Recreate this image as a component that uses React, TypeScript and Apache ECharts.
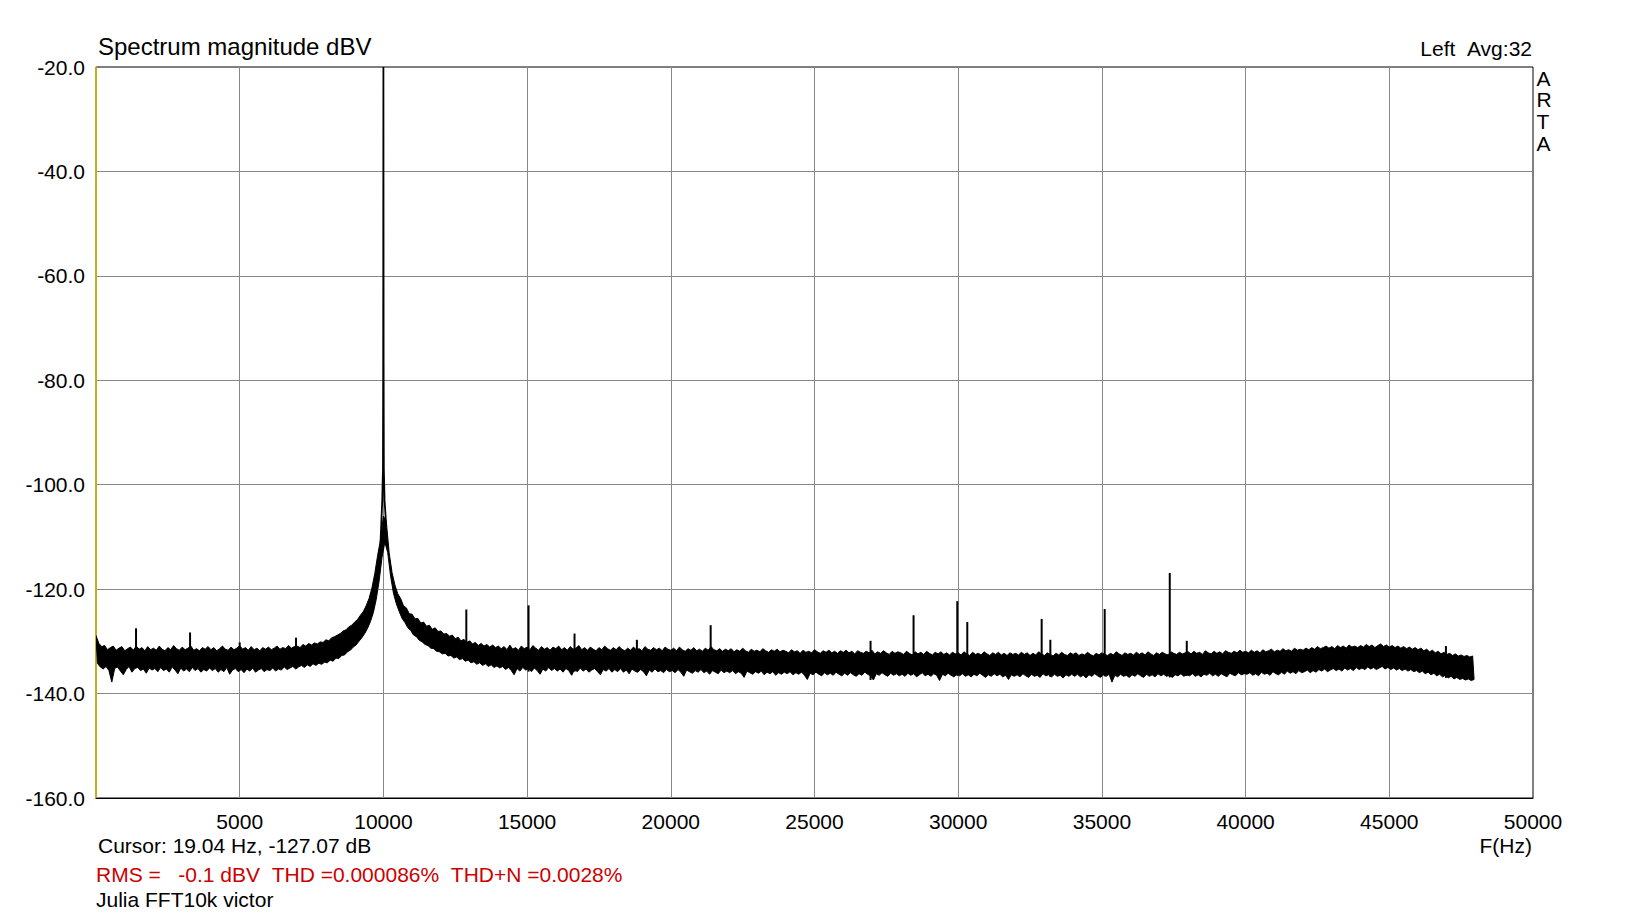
import React, { useEffect, useRef } from "react";
import * as echarts from "echarts";

// ---------- data ----------
const BIN_HZ = 100; // spacing of the noise-band samples (Hz)

// upper edge of the noise band, one value per 100 Hz bin starting at 0 Hz (dBV)
const bandTop = [
  -128.9, -130.4, -131.0, -130.8, -131.6, -131.2, -130.9, -131.7, -131.3, -131.0, -131.8, -131.4, -131.1, -131.7, -130.9, -131.5, -131.2, -131.8, -131.0, -131.6,
  -131.3, -131.7, -130.9, -131.5, -131.8, -131.2, -131.6, -130.8, -131.4, -131.7, -131.1, -131.6, -131.3, -130.9, -131.7, -131.4, -131.8, -131.2, -131.5, -131.0,
  -131.6, -131.2, -131.8, -131.4, -130.9, -131.5, -131.7, -131.1, -131.6, -131.3, -130.8, -131.5, -131.2, -131.7, -131.0, -131.6, -131.3, -131.8, -131.2, -131.5,
  -131.1, -131.6, -131.3, -130.9, -131.5, -131.2, -131.4, -130.8, -131.3, -131.0, -130.9, -131.2, -130.6, -130.9, -130.4, -130.7, -130.3, -130.5, -130.1, -130.2,
  -129.7, -129.9, -129.3, -129.1, -128.8, -128.5, -128.0, -127.8, -127.2, -126.9, -126.3, -125.8, -125.0, -124.3, -123.2, -121.8, -119.8, -117.0, -113.5, -110.5,
  -106.0, -107.0, -113.0, -116.8, -119.2, -120.9, -121.8, -123.2, -123.6, -124.7, -124.8, -125.7, -125.6, -126.5, -126.3, -127.1, -126.9, -127.7, -127.4, -128.1,
  -128.0, -128.6, -128.5, -129.0, -128.8, -129.5, -129.2, -129.9, -129.6, -130.2, -129.9, -130.5, -130.2, -130.8, -130.4, -130.9, -130.6, -131.1, -130.7, -131.2,
  -130.9, -131.4, -131.0, -131.6, -130.7, -131.5, -131.2, -131.7, -130.9, -131.4, -131.1, -131.6, -130.8, -131.3, -131.7, -131.0, -131.5, -131.2, -131.7, -131.1,
  -131.4, -130.9, -131.6, -131.2, -131.7, -131.0, -131.5, -131.3, -130.8, -131.6, -131.2, -131.7, -131.1, -131.5, -131.8, -131.2, -131.6, -130.9, -131.4, -131.7,
  -131.2, -131.6, -131.0, -131.5, -131.8, -131.3, -131.7, -131.1, -131.6, -131.4, -131.8, -131.0, -131.5, -131.7, -131.2, -131.6, -131.3, -131.8, -131.1, -131.5,
  -131.7, -131.3, -131.8, -131.1, -131.6, -131.9, -131.4, -131.7, -131.2, -131.8, -131.5, -131.9, -131.3, -131.7, -131.0, -131.6, -131.8, -131.4, -131.9, -131.5,
  -131.8, -131.4, -132.0, -131.6, -131.9, -131.3, -131.8, -132.1, -131.5, -131.9, -131.7, -132.0, -131.4, -131.8, -132.1, -131.6, -131.9, -131.5, -132.0, -131.7,
  -131.9, -132.2, -131.6, -132.0, -131.8, -132.3, -131.7, -132.1, -131.9, -132.2, -131.6, -132.0, -132.3, -131.8, -132.1, -131.7, -132.2, -131.9, -132.3, -131.8,
  -132.1, -131.7, -132.2, -131.9, -132.4, -131.8, -132.1, -132.3, -131.9, -132.2, -131.7, -132.4, -132.0, -132.3, -131.8, -132.2, -132.5, -131.9, -132.3, -132.0,
  -132.2, -132.5, -131.9, -132.3, -132.6, -132.0, -132.4, -132.1, -132.5, -131.9, -132.3, -132.6, -132.1, -132.4, -132.0, -132.5, -132.2, -132.6, -132.1, -132.4,
  -132.2, -132.6, -132.0, -132.4, -132.7, -132.1, -132.5, -132.3, -132.6, -132.0, -132.4, -132.7, -132.2, -132.5, -132.1, -132.6, -132.3, -132.7, -132.2, -132.5,
  -132.3, -132.6, -132.1, -132.5, -132.2, -132.7, -132.3, -132.6, -132.0, -132.4, -132.7, -132.2, -132.5, -132.8, -132.3, -132.6, -132.1, -132.5, -132.7, -132.2,
  -132.5, -132.2, -132.7, -132.4, -132.6, -132.1, -132.5, -132.8, -132.3, -132.6, -132.2, -132.5, -132.7, -132.3, -132.6, -132.0, -132.4, -132.7, -132.2, -132.5,
  -132.3, -132.6, -132.1, -132.5, -132.2, -132.6, -132.0, -132.4, -132.7, -132.2, -132.5, -132.1, -132.4, -132.6, -132.0, -132.3, -132.5, -132.1, -132.4, -132.2,
  -132.0, -132.4, -131.9, -132.3, -132.1, -132.5, -131.8, -132.2, -132.4, -131.9, -132.3, -132.0, -132.4, -131.8, -132.1, -132.3, -131.9, -132.2, -131.7, -132.1,
  -131.9, -132.2, -131.7, -132.1, -131.8, -132.2, -131.6, -132.0, -131.8, -131.5, -132.0, -131.7, -131.9, -131.4, -131.8, -131.6, -131.9, -131.3, -131.7, -131.5,
  -131.7, -131.3, -131.6, -131.2, -131.5, -131.0, -131.4, -131.2, -130.9, -131.3, -131.0, -131.4, -130.8, -131.2, -130.9, -131.3, -130.7, -131.1, -130.9, -131.2,
  -130.8, -131.1, -130.6, -131.0, -130.7, -131.2, -130.8, -130.5, -131.0, -130.7, -131.1, -130.8, -131.2, -130.9, -131.3, -131.0, -131.4, -131.1, -131.5, -131.2,
  -131.6, -131.3, -131.8, -131.5, -132.0, -131.7, -132.2, -131.9, -132.4, -132.1, -132.5, -132.3, -132.7, -132.4, -132.8, -132.6, -132.9, -132.7, -133.0, -132.8,
];

// lower edge of the noise band, one value per bin, sampled half a bin later (dBV)
const bandBottom = [
  -134.2, -134.9, -135.3, -134.8, -135.6, -137.8, -135.2, -134.9, -135.7, -136.4, -135.4, -134.8, -135.9, -135.2, -135.0, -135.6, -135.3, -136.1, -135.1, -135.5,
  -135.2, -135.8, -135.0, -135.6, -135.3, -135.9, -134.9, -135.5, -136.2, -135.1, -135.7, -135.3, -135.8, -135.0, -135.6, -135.2, -135.9, -135.4, -135.7, -135.1,
  -135.6, -135.2, -135.9, -135.4, -135.8, -135.0, -136.3, -135.5, -135.2, -135.8, -135.4, -136.0, -135.3, -135.7, -135.1, -135.9, -135.5, -135.2, -135.8, -135.4,
  -135.6, -135.1, -135.7, -135.3, -135.5, -134.9, -135.4, -135.1, -134.8, -135.3, -134.9, -134.6, -135.0, -134.5, -134.8, -134.3, -134.6, -134.2, -134.4, -134.0,
  -134.1, -133.6, -133.8, -133.2, -133.3, -132.7, -132.6, -132.0, -131.7, -131.1, -130.7, -130.0, -129.3, -128.5, -127.5, -126.2, -124.5, -122.0, -118.5, -114.0,
  -111.0, -113.0, -117.5, -120.8, -122.8, -124.3, -125.6, -126.4, -127.4, -127.9, -128.8, -129.1, -129.8, -130.1, -130.6, -130.8, -131.3, -131.4, -131.9, -132.0,
  -132.4, -132.3, -132.8, -132.7, -133.2, -133.0, -133.5, -133.3, -133.8, -133.6, -134.1, -133.9, -134.4, -134.1, -134.6, -134.3, -134.8, -134.5, -135.0, -134.7,
  -135.1, -134.8, -135.4, -135.0, -135.6, -136.4, -135.2, -135.7, -135.0, -135.5, -135.2, -135.8, -135.1, -135.6, -136.3, -135.3, -135.7, -135.0, -135.6, -135.2,
  -135.7, -135.3, -135.9, -135.2, -135.6, -136.5, -135.4, -135.8, -135.1, -135.7, -135.3, -135.9, -135.5, -135.2, -135.8, -136.4, -135.4, -135.7, -135.2, -135.9,
  -135.4, -135.8, -135.2, -135.9, -135.5, -136.2, -135.3, -135.7, -135.9, -135.4, -135.8, -136.6, -135.5, -135.9, -135.3, -135.8, -135.6, -136.0, -135.4, -135.8,
  -135.6, -136.0, -135.4, -135.9, -136.7, -135.5, -135.8, -136.1, -135.6, -135.9, -135.4, -136.0, -135.7, -136.3, -135.6, -135.9, -136.2, -135.5, -136.0, -135.7,
  -136.0, -135.6, -136.2, -135.8, -136.1, -136.9, -135.7, -136.0, -136.3, -135.8, -136.1, -135.7, -136.4, -135.9, -136.2, -135.8, -136.5, -136.0, -136.3, -135.9,
  -136.2, -135.8, -136.4, -136.0, -136.3, -135.9, -136.5, -137.3, -136.1, -136.4, -135.9, -136.3, -136.6, -136.0, -136.4, -136.1, -136.5, -135.9, -136.3, -136.6,
  -136.1, -136.5, -136.0, -136.4, -136.7, -136.2, -136.5, -135.9, -136.3, -136.6, -137.4, -136.2, -136.5, -136.0, -136.4, -136.7, -136.1, -136.5, -136.2, -136.6,
  -136.3, -136.7, -136.1, -136.5, -136.2, -136.8, -136.4, -136.0, -136.6, -136.3, -136.7, -136.2, -136.5, -137.5, -136.3, -136.6, -136.1, -136.5, -136.8, -136.3,
  -136.6, -136.2, -136.7, -136.4, -136.8, -136.3, -136.6, -136.1, -136.5, -136.9, -136.4, -136.7, -136.2, -136.6, -136.3, -136.8, -136.5, -137.3, -136.4, -136.7,
  -136.4, -136.8, -136.2, -136.6, -136.9, -136.3, -136.7, -136.5, -136.9, -136.2, -136.6, -136.4, -136.8, -136.3, -136.7, -136.5, -137.0, -136.4, -136.7, -136.3,
  -136.7, -136.3, -136.8, -136.5, -137.0, -136.4, -136.7, -136.2, -136.6, -136.9, -136.4, -136.7, -136.3, -137.8, -136.5, -136.8, -136.3, -136.7, -136.5, -136.9,
  -136.4, -136.7, -136.2, -136.6, -136.9, -136.3, -136.7, -136.4, -136.8, -136.2, -136.6, -136.3, -136.7, -136.5, -136.9, -136.4, -136.6, -136.2, -136.7, -136.4,
  -136.6, -136.2, -136.7, -136.4, -136.8, -136.3, -136.5, -136.1, -136.6, -136.3, -136.7, -136.2, -136.5, -136.8, -136.1, -136.4, -136.6, -136.0, -136.4, -136.2,
  -136.3, -136.0, -136.5, -136.2, -136.6, -135.9, -136.3, -136.1, -136.5, -135.8, -136.2, -136.4, -135.9, -136.3, -135.7, -136.1, -135.8, -136.2, -135.6, -136.0,
  -135.8, -135.5, -136.0, -135.6, -135.9, -135.4, -135.7, -135.3, -135.8, -135.5, -135.2, -135.6, -135.3, -135.7, -135.1, -135.5, -135.2, -135.6, -135.0, -135.4,
  -135.1, -135.4, -134.9, -135.3, -135.0, -135.4, -135.1, -134.8, -135.3, -135.0, -135.4, -135.1, -135.5, -135.2, -135.6, -135.3, -135.7, -135.4, -135.8, -135.6,
  -136.0, -135.7, -136.2, -135.9, -136.4, -136.1, -136.6, -136.3, -136.8, -136.5, -137.0, -136.7, -137.2, -136.9, -137.3, -137.1, -137.4, -137.2, -137.5, -137.3,
];

// discrete spurs above the noise floor
const spikeFreqs = [1393, 3273, 5000, 6960, 12885, 15050, 16650, 18820, 21387, 26950,
  28447, 29968, 30316, 32904, 33206, 35097, 37361, 37953, 46970];
const spikeLevels = [-127.5, -128.3, -130.2, -129.3, -123.9, -123.1, -128.5, -129.7, -126.9, -129.9,
  -125.0, -122.3, -126.3, -125.7, -129.7, -123.8, -116.9, -129.9, -130.9];

// the 10 kHz fundamental
const peakFreqs = [9900, 9960, 9985, 9993, 10000, 10007, 10015, 10040, 10100];
const peakLevels = [-111, -103, -97, -77, -20, -77, -97, -103, -108];

const X_MIN = 0, X_MAX = 50000, X_STEP = 5000;
const Y_MIN = -160, Y_MAX = -20, Y_STEP = 20;

const titleText = "Spectrum magnitude dBV";
const channelText = "Left\u00a0\u00a0Avg:32";
const brandLetters = ["A", "R", "T", "A"];
const xAxisName = "F(Hz)";
const cursorText = "Cursor: 19.04 Hz, -127.07 dB";
const statsText = "RMS =\u00a0\u00a0\u00a0-0.1 dBV\u00a0\u00a0THD =0.000086%\u00a0\u00a0THD+N =0.0028%";
const noteText = "Julia FFT10k victor";

const FONT = '"Liberation Sans", Arial, Helvetica, sans-serif';

export default function App() {
  const ref = useRef<HTMLDivElement>(null);

  useEffect(() => {
    if (!ref.current) return;
    const chart = echarts.init(ref.current, null, { renderer: "svg" });

    const spikeData = spikeFreqs.map((f, i) => [f, spikeLevels[i]]);
    const peakData = peakFreqs.map((f, i) => [f, peakLevels[i]]);

    const txt = (text: string, x: number, y: number, opts: any = {}) => ({
      type: "text",
      x,
      y,
      silent: true,
      style: {
        text,
        fill: opts.fill || "#000",
        font: `${opts.size || 21}px ${FONT}`,
        textAlign: opts.align || "left",
        textVerticalAlign: "middle",
        verticalAlign: "middle",
      },
    });

    const option: any = {
      animation: false,
      backgroundColor: "#fff",
      grid: {
        left: 96,
        top: 67,
        width: 1437,
        height: 731,
        show: true,
        borderColor: "#000",
        borderWidth: 1,
        backgroundColor: "transparent",
      },
      xAxis: {
        type: "value",
        min: X_MIN,
        max: X_MAX,
        interval: X_STEP,
        axisLine: { show: true, onZero: false, lineStyle: { color: "#000", width: 1 } },
        axisTick: { show: false },
        axisLabel: {
          formatter: (v: number) => (v === 0 ? "" : String(v)),
          color: "#000",
          fontSize: 21,
          fontFamily: FONT,
          margin: 13,
        },
        splitLine: { show: true, showMinLine: false, showMaxLine: false, lineStyle: { color: "#888", width: 1 } },
      },
      yAxis: {
        type: "value",
        min: Y_MIN,
        max: Y_MAX,
        interval: Y_STEP,
        axisLine: { show: true, onZero: false, lineStyle: { color: "#c8c800", width: 1.5 } },
        axisTick: { show: false },
        axisLabel: {
          formatter: (v: number) => v.toFixed(1),
          color: "#000",
          fontSize: 21,
          fontFamily: FONT,
          margin: 11,
        },
        splitLine: { show: true, showMinLine: false, showMaxLine: false, lineStyle: { color: "#888", width: 1 } },
      },
      graphic: [
        txt(titleText, 98, 46, { size: 24 }),
        txt(channelText, 1532, 48, { align: "right" }),
        ...brandLetters.map((l, i) => txt(l, 1536.5, [78, 99, 121, 143][i])),
        txt(xAxisName, 1532, 845, { align: "right" }),
        txt(cursorText, 98, 845),
        txt(statsText, 96, 874, { fill: "#cc0000" }),
        txt(noteText, 96, 899),
      ],
      series: [
        {
          type: "custom",
          silent: true,
          clip: true,
          data: [[0, -134]],
          renderItem: (_params: any, api: any) => {
            const pts: number[][] = [];
            for (let i = 0; i < bandTop.length; i++) pts.push(api.coord([i * BIN_HZ, bandTop[i]]));
            for (let i = bandBottom.length - 1; i >= 0; i--) pts.push(api.coord([i * BIN_HZ + BIN_HZ / 2, bandBottom[i]]));
            return {
              type: "polygon",
              shape: { points: pts },
              style: { fill: "#000", stroke: "#000", lineWidth: 1 },
            };
          },
        },
        {
          type: "custom",
          silent: true,
          clip: true,
          data: spikeData,
          renderItem: (_params: any, api: any) => {
            const f = api.value(0);
            const top = api.value(1);
            const bin = Math.min(bandBottom.length - 1, Math.round(f / BIN_HZ));
            const p1 = api.coord([f, bandBottom[bin]]);
            const p2 = api.coord([f, top]);
            return {
              type: "line",
              shape: { x1: p1[0], y1: p1[1], x2: p2[0], y2: p2[1] },
              style: { stroke: "#000", lineWidth: 2 },
            };
          },
        },
        {
          type: "line",
          data: peakData,
          symbol: "none",
          clip: true,
          silent: true,
          lineStyle: { color: "#000", width: 1.8 },
        },
      ],
    };

    chart.setOption(option);
    return () => chart.dispose();
  }, []);

  return (
    <div
      ref={ref}
      style={{ position: "fixed", left: 0, top: 0, width: 1628, height: 916, background: "#fff" }}
    />
  );
}
